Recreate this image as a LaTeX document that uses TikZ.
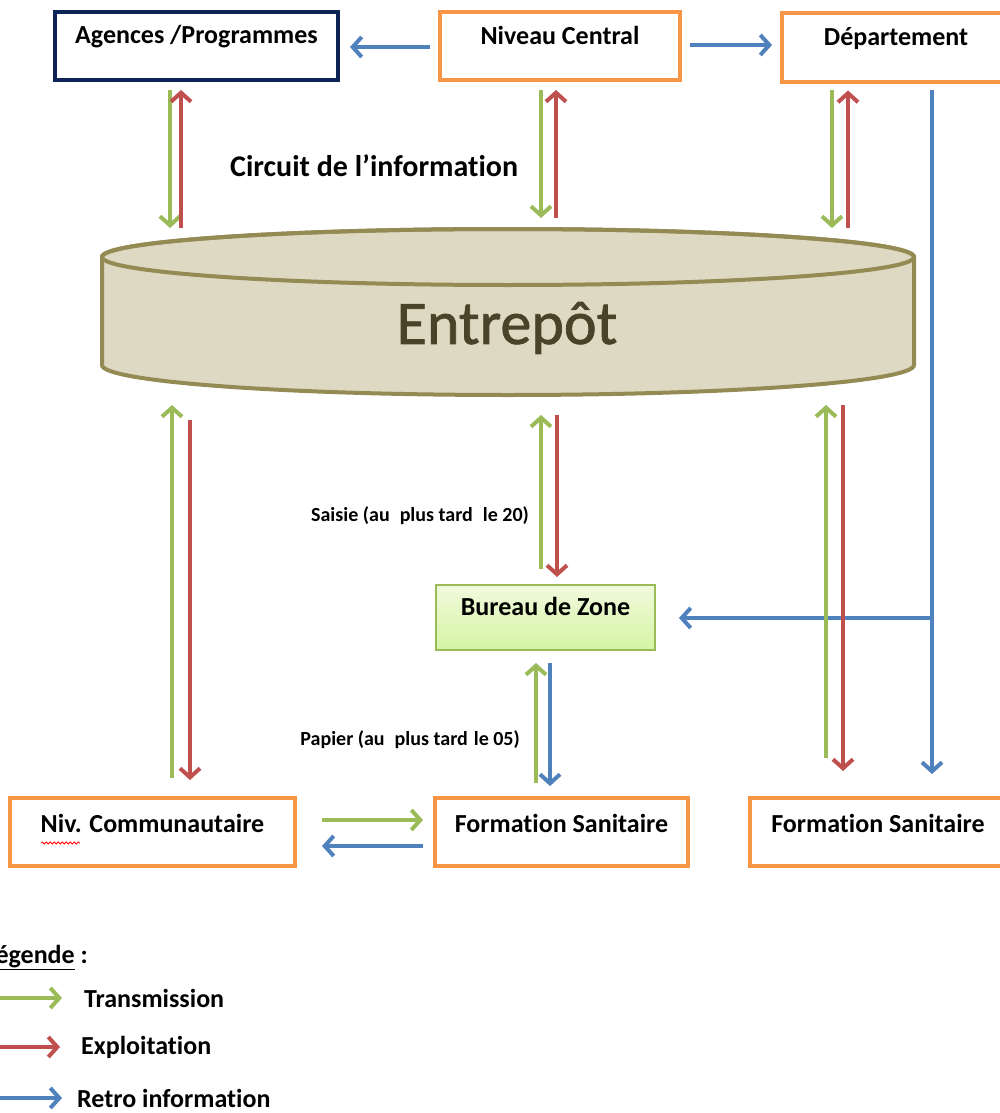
\documentclass[tikz,border=0pt]{standalone}
\usepackage{fontspec}
\setmainfont{Carlito}[Ligatures=NoCommon]
\newfontfamily\entfont{Carlito}[FakeBold=1.2]
\usetikzlibrary{arrows.meta,calc,decorations.pathmorphing}
\definecolor{cgreen}{HTML}{9BBB59}
\definecolor{cred}{HTML}{C0504D}
\definecolor{cblue}{HTML}{4F81BD}
\definecolor{corange}{HTML}{F79646}
\definecolor{cnavy}{HTML}{0F2456}
\definecolor{colive}{HTML}{948A54}
\definecolor{ctan}{HTML}{DDD9C3}
\definecolor{cdark}{HTML}{4A4229}
\definecolor{bzborder}{HTML}{9BBB59}
\definecolor{bztop}{HTML}{F0FADD}
\definecolor{bzbot}{HTML}{D6F4A3}
\begin{document}
\begin{tikzpicture}[x=1pt,y=-1pt,
  box/.style={draw=corange, line width=4pt, rectangle, inner sep=0pt,
    font=\fontsize{26}{30}\bfseries\selectfont, minimum height=68pt, text height=19pt},
  arr/.style={line width=4pt, -{Straight Barb[length=9pt,width=20pt]}},
  lbl/.style={font=\fontsize{26}{30}\bfseries\selectfont, inner sep=0pt},
  small/.style={font=\fontsize{20}{23}\bfseries\selectfont, inner sep=0pt}
]
\clip (0,0) rectangle (1000,1113);

% top boxes
\node[box, draw=cnavy, minimum width=283pt, text depth=23pt] (ag) at (196.5,46) {Agences /Programmes};
\node[box, minimum width=240pt, text depth=21pt] (nc) at (560,46) {Niveau Central};
\node[box, minimum width=228pt, minimum height=69pt, text depth=22pt] (dep) at (896,47.5) {Département};

% cylinder
\filldraw[fill=ctan, draw=colive, line width=4pt]
  (102,257) -- (102,365) arc (180:0:406 and 30) -- (914,257) arc (0:-180:406 and 28) -- cycle;
\draw[colive, line width=4pt] (508,257) ellipse (406 and 28);
\node[font=\fontsize{62}{68}\entfont, text=cdark, inner sep=0pt] (ent) at (507,328) {Entrepôt};

% Bureau de zone
\node[box, draw=bzborder, line width=2pt, top color=bztop, bottom color=bzbot,
  minimum width=219pt, minimum height=65pt, text depth=24pt] (bz) at (545.5,617.5) {Bureau de Zone};

% bottom boxes
\node[box, minimum width=285pt, text depth=19pt] (nivc) at (152.5,832) {Niv. Communautaire};
\node[box, minimum width=253pt, text depth=19pt] (fs1) at (561.5,832) {Formation Sanitaire};
\node[box, minimum width=256pt, text depth=19pt] (fs2) at (878,832) {Formation Sanitaire};

% top horizontal arrows
\draw[arr, cblue] ($(nc.west)+(-8,1)$) -- ($(ag.east)+(10,1)$);
\draw[arr, cblue] ($(nc.east)+(8,-1)$) -- ($(dep.west)+(-8,-2.5)$);

% verticals between top boxes and cylinder
\draw[arr, cgreen] ($(ag.south)+(-26.5,8)$) -- (170,228);
\draw[arr, cred] (181,228) -- ($(ag.south)+(-15.5,8)$);
\draw[arr, cgreen] ($(nc.south)+(-19,8)$) -- (541,218);
\draw[arr, cred] (556,218) -- ($(nc.south)+(-4,8)$);
\draw[arr, cgreen] ($(dep.south)+(-64,6.5)$) -- (832,228);
\draw[arr, cred] (848,228) -- ($(dep.south)+(-48,6.5)$);

% blue retro line
\coordinate (bstart) at ($(dep.south)+(36,6.5)$);
\coordinate (bjoin) at (932,618);
\draw[arr, cblue] (bstart) -- ($(fs2.north)+(54,-22)$);
\draw[arr, cblue] (bjoin) -- ($(bz.east)+(23,0.5)$);

% lower verticals
\draw[arr, cgreen] ($(nivc.north)+(19.5,-18)$) -- (172,405);
\draw[arr, cred] (190,420) -- ($(nivc.north)+(37.5,-16)$);
\draw[arr, cgreen] ($(bz.north)+(-4.5,-15)$) -- (541,415);
\draw[arr, cred] (557,415) -- ($(bz.north)+(11.5,-7)$);
\draw[arr, cgreen] ($(fs2.north)+(-52,-38)$) -- (826,405);
\draw[arr, cred] (843,405) -- ($(fs2.north)+(-35,-25)$);
\draw[arr, cgreen] ($(fs1.north)+(-25.5,-13)$) -- ($(bz.south)+(-9.5,12)$);
\draw[arr, cblue] ($(bz.south)+(4.5,12)$) -- ($(fs1.north)+(-11.5,-10)$);

% horizontal arrows bottom
\draw[arr, cgreen] ($(nivc.east)+(25,-12)$) -- ($(fs1.west)+(-10,-12)$);
\draw[arr, cblue] ($(fs1.west)+(-10,14)$) -- ($(nivc.east)+(25,14)$);

% spell-check mark
\draw[red, line width=0.8pt, decorate, decoration={snake, amplitude=1pt, segment length=4pt}] (41,843) -- (80,843);

% labels
\node[font=\fontsize{30}{34}\bfseries\selectfont, inner sep=0pt, anchor=west] (circ) at (230,166) {Circuit de l’information};
\node[small, anchor=east] (saisie) at (529,516) {Saisie (au\hspace{10pt}plus tard\hspace{10pt}le 20)};
\node[small, anchor=east] (papier) at (520,740) {Papier (au\hspace{10pt}plus tard\hspace{6pt}le 05)};

% legend
\node[lbl, anchor=base east] (leg) at (88,963) {\underline{Légende}~:};
\coordinate (lg1) at (-5,998);
\coordinate (lg2) at (-5,1047);
\coordinate (lg3) at (-5,1098);
\draw[arr, cgreen] (lg1) -- (62,998);
\draw[arr, cred] (lg2) -- (60,1047);
\draw[arr, cblue] (lg3) -- (62,1098);
\node[lbl, anchor=west] (t1) at (84,998) {Transmission};
\node[lbl, anchor=west] (t2) at (81,1047) {Exploitation};
\node[lbl, anchor=west] (t3) at (77,1098) {Retro information};
\end{tikzpicture}
\end{document}
